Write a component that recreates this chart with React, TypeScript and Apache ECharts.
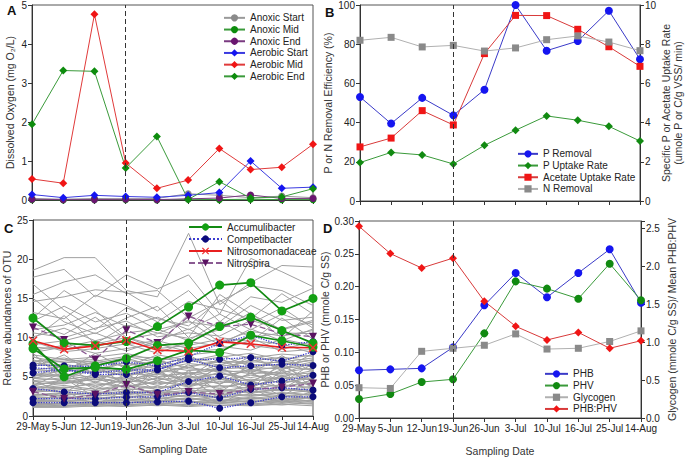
import React, { useEffect, useRef } from 'react';
import * as echarts from 'echarts';

const dates = ['29-May', '5-Jun', '12-Jun', '19-Jun', '26-Jun', '3-Jul', '10-Jul', '16-Jul', '25-Jul', '14-Aug'];

// Panel A: dissolved oxygen (mg O2/L)
const anoxicStart = [0.04, 0.02, 0.04, 0.03, 0.04, 0.16, 0.12, 0.06, 0.1, 0.06];
const anoxicMid = [0.01, 0.0, 0.01, 0.01, 0.0, 0.02, 0.01, 0.02, 0.01, 0.01];
const anoxicEnd = [0.02, 0.01, 0.01, 0.02, 0.01, 0.03, 0.05, 0.13, 0.04, 0.04];
const aerobicStart = [0.14, 0.06, 0.12, 0.09, 0.07, 0.12, 0.19, 1.0, 0.3, 0.33];
const aerobicMid = [0.54, 0.43, 4.76, 0.95, 0.3, 0.51, 1.32, 0.78, 0.84, 1.43];
const aerobicEnd = [1.94, 3.32, 3.3, 0.82, 1.63, 0.01, 0.47, 0.05, 0.08, 0.29];

// Panel B
const pRemoval = [53.1, 39.5, 52.6, 43.7, 56.8, 100, 76.7, 81.6, 97.1, 72.3];
const nRemoval = [82.0, 83.5, 78.6, 79.4, 76.5, 78.1, 82.3, 84.2, 81.1, 76.7];
const acetateUptake = [2.76, 3.21, 4.61, 3.88, 7.52, 9.47, 9.46, 8.76, 7.87, 6.87];
const pUptake = [1.96, 2.48, 2.35, 1.89, 2.84, 3.61, 4.34, 4.12, 3.81, 3.06];

// Panel C: relative abundances of OTU
const accumulibacter = [
  [12.5, 9.3, 9.0, 9.5, 11.4, 13.9, 16.7, 17.0, 13.4, 15.0],
  [9.2, 5.0, 6.4, 7.35, 9.0, 9.3, 11.4, 12.6, 10.9, 9.3],
  [8.6, 6.0, 6.2, 5.95, 7.05, 8.4, 8.1, 10.3, 9.6, 8.8],
];
const competibacter = [
  [6.5, 6.4, 6.3, 6.9, 6.4, 7.55, 9.26, 10.3, 9.0, 9.5],
  [6.15, 5.9, 5.5, 5.85, 5.9, 7.2, 7.25, 7.45, 7.0, 8.2],
  [5.5, 5.9, 5.3, 5.3, 5.9, 7.2, 6.15, 6.4, 6.6, 6.45],
  [3.5, 3.06, 2.8, 3.0, 3.0, 4.4, 5.1, 3.95, 4.45, 5.2],
  [2.2, 2.25, 2.2, 2.4, 2.45, 3.0, 2.3, 3.4, 3.6, 3.3],
  [1.7, 1.7, 1.7, 1.7, 1.8, 1.9, 0.98, 1.7, 2.45, 2.45],
];
const nitrosomonadaceae = [9.6, 8.5, 8.95, 9.65, 8.4, 8.25, 9.45, 9.2, 8.75, 8.7];
const nitrospira = [
  [11.3, 9.7, 7.2, 10.95, 9.3, 12.7, 11.4, 11.7, 10.5, 10.1],
  [3.1, 2.2, 2.7, 3.95, 2.7, 3.05, 2.8, 3.4, 3.65, 4.15],
];
const otherOtu = [
  [18.6, 20.2, 20.2, 16.0, 15.2, 23.3, 14.2, 17.0, 19.2, 19.0],
  [17.7, 18.7, 15.2, 18.0, 16.2, 18.0, 13.0, 20.1, 18.4, 16.5],
  [15.5, 17.1, 18.0, 15.6, 16.0, 12.5, 14.6, 16.6, 16.0, 14.1],
  [14.6, 15.2, 16.1, 15.8, 13.4, 16.0, 12.0, 15.2, 14.5, 16.3],
  [13.2, 12.4, 15.4, 14.1, 12.0, 14.6, 13.6, 12.4, 15.6, 13.0],
  [12.1, 14.0, 12.0, 13.1, 11.0, 12.0, 11.4, 14.1, 12.2, 12.6],
  [11.0, 11.6, 13.2, 11.4, 12.6, 11.0, 13.0, 11.0, 13.0, 11.6],
  [10.6, 10.0, 11.2, 12.1, 10.1, 10.6, 10.2, 12.2, 11.1, 12.2],
  [10.1, 11.2, 9.6, 10.6, 11.1, 9.6, 12.1, 10.0, 10.6, 10.5],
  [9.1, 9.6, 10.6, 9.1, 9.6, 11.1, 9.1, 11.1, 9.6, 11.1],
  [15.0, 12.0, 10.5, 12.5, 14.0, 10.0, 15.5, 13.0, 11.0, 12.0],
  [12.5, 16.0, 13.5, 10.0, 9.0, 13.0, 10.0, 9.5, 12.5, 9.8],
  [11.8, 10.4, 12.6, 9.8, 10.5, 12.2, 9.4, 10.8, 10.2, 10.9],
  [16.8, 13.5, 11.0, 13.8, 12.4, 11.5, 14.8, 11.8, 13.8, 11.2],
  [9.8, 12.8, 9.2, 11.6, 10.6, 9.9, 11.0, 13.2, 9.9, 13.4],
  [8.8, 8.5, 9.2, 10.0, 8.6, 9.0, 9.8, 9.0, 8.5, 9.5],
  [8.4, 9.0, 8.0, 8.6, 9.2, 8.2, 8.5, 9.6, 9.2, 8.0],
  [9.5, 8.2, 8.6, 9.2, 8.0, 9.5, 8.9, 8.4, 9.8, 9.0],
  [8.1, 8.8, 9.6, 8.3, 9.6, 8.6, 9.3, 10.0, 8.2, 8.5],
  [7.8, 7.2, 7.5, 8.0, 7.0, 7.8, 8.2, 7.4, 7.9, 7.6],
  [7.5, 6.8, 7.0, 7.6, 7.4, 6.9, 7.5, 8.0, 7.2, 7.8],
  [7.0, 7.4, 6.5, 7.1, 6.6, 7.4, 6.8, 7.0, 7.5, 7.0],
  [6.8, 6.2, 6.9, 6.4, 7.0, 6.2, 7.1, 6.6, 6.4, 7.2],
  [6.4, 6.6, 6.0, 6.8, 6.0, 6.7, 6.3, 6.9, 6.8, 6.4],
  [6.0, 5.6, 6.3, 5.8, 6.4, 5.8, 6.0, 6.2, 6.0, 6.6],
  [5.7, 5.9, 5.5, 6.1, 5.6, 6.2, 5.6, 5.8, 6.3, 5.9],
  [5.4, 5.0, 5.8, 5.2, 5.8, 5.4, 5.9, 5.4, 5.6, 6.1],
  [5.1, 5.4, 4.9, 5.5, 5.0, 5.6, 5.2, 5.7, 5.2, 5.5],
  [4.8, 4.6, 5.2, 4.7, 5.3, 4.8, 5.4, 4.9, 5.5, 5.0],
  [4.5, 4.9, 4.4, 5.0, 4.6, 5.1, 4.6, 5.2, 4.7, 5.3],
  [4.2, 4.1, 4.7, 4.3, 4.8, 4.3, 4.9, 4.4, 5.0, 4.6],
  [4.0, 4.4, 3.9, 4.5, 4.1, 4.6, 4.2, 4.7, 4.3, 4.8],
  [3.7, 3.6, 4.1, 3.8, 4.3, 3.9, 4.4, 4.0, 4.5, 4.1],
  [3.5, 3.9, 3.4, 4.0, 3.6, 4.1, 3.7, 4.2, 3.8, 4.3],
  [3.2, 3.1, 3.6, 3.3, 3.8, 3.4, 3.9, 3.5, 4.0, 3.6],
  [3.0, 3.4, 2.9, 3.5, 3.1, 3.6, 3.2, 3.7, 3.3, 3.8],
  [2.8, 2.6, 3.1, 2.8, 3.3, 2.9, 3.4, 3.0, 3.5, 3.1],
  [2.6, 2.9, 2.5, 3.0, 2.6, 3.1, 2.7, 3.2, 2.8, 3.3],
  [2.4, 2.3, 2.7, 2.4, 2.9, 2.5, 3.0, 2.6, 3.0, 2.7],
  [2.2, 2.5, 2.1, 2.6, 2.2, 2.7, 2.3, 2.8, 2.4, 2.9],
  [2.0, 1.9, 2.3, 2.0, 2.5, 2.1, 2.6, 2.2, 2.7, 2.3],
  [1.8, 2.1, 1.8, 2.2, 1.9, 2.3, 1.9, 2.4, 2.0, 2.5],
  [1.6, 1.6, 1.9, 1.7, 2.1, 1.7, 2.2, 1.8, 2.3, 1.9],
  [1.4, 1.7, 1.5, 1.8, 1.5, 1.9, 1.6, 2.0, 1.6, 2.1],
  [1.3, 1.3, 1.6, 1.4, 1.7, 1.4, 1.8, 1.5, 1.9, 1.6],
  [1.2, 1.4, 1.2, 1.5, 1.3, 1.5, 1.3, 1.6, 1.4, 1.7],
  [1.1, 1.1, 1.3, 1.2, 1.4, 1.2, 1.4, 1.3, 1.5, 1.3],
  [7.2, 5.5, 8.0, 6.0, 5.2, 7.8, 5.6, 7.6, 5.8, 8.0],
  [6.2, 7.8, 5.2, 7.6, 6.8, 5.0, 7.4, 5.4, 7.7, 5.6],
  [5.0, 6.5, 4.2, 6.4, 4.4, 6.6, 4.0, 6.5, 4.2, 6.7],
  [3.9, 5.6, 3.3, 5.4, 3.2, 5.8, 3.0, 5.6, 3.4, 5.7],
  [2.9, 4.8, 2.4, 4.6, 2.3, 4.9, 2.2, 4.6, 2.5, 4.8],
  [8.0, 4.5, 6.6, 3.8, 7.6, 3.6, 6.5, 3.4, 6.9, 3.5],
  [4.6, 2.8, 5.6, 2.5, 6.2, 2.6, 5.2, 2.7, 5.8, 2.6],
  [1.5, 3.2, 1.4, 3.4, 1.6, 3.5, 1.5, 3.6, 1.7, 3.2],
  [6.6, 7.0, 7.2, 6.3, 7.8, 7.1, 6.5, 7.7, 6.9, 7.4],
  [5.9, 6.3, 5.6, 6.9, 5.4, 6.4, 6.9, 6.1, 7.1, 6.2],
  [5.3, 5.7, 6.1, 5.0, 6.2, 5.2, 6.6, 5.9, 5.4, 6.8],
  [4.9, 5.2, 4.6, 5.8, 4.9, 5.5, 4.8, 6.0, 5.0, 5.8],
  [4.4, 4.3, 5.0, 4.1, 5.5, 4.4, 5.6, 4.5, 5.9, 4.4],
  [3.8, 4.7, 3.7, 4.8, 3.9, 5.0, 4.1, 5.4, 4.1, 5.1],
  [3.4, 3.5, 4.3, 3.6, 4.5, 3.7, 4.7, 3.8, 4.9, 3.9],
  [3.1, 3.7, 3.2, 3.9, 3.4, 4.3, 3.5, 4.4, 3.6, 4.6],
  [2.7, 3.0, 2.8, 3.2, 2.9, 3.3, 3.1, 3.4, 3.2, 3.5],
  [2.5, 2.7, 2.9, 2.7, 3.1, 2.8, 3.3, 2.9, 3.4, 3.0],
  [2.1, 2.2, 2.4, 2.3, 2.7, 2.4, 2.8, 2.5, 2.9, 2.6],
  [1.9, 1.8, 2.1, 1.9, 2.3, 2.0, 2.4, 2.1, 2.5, 2.2],
  [1.7, 1.9, 1.6, 2.0, 1.8, 2.2, 1.8, 2.3, 1.9, 2.4],
  [1.5, 1.5, 1.7, 1.6, 1.9, 1.6, 2.0, 1.7, 2.1, 1.8],
  [1.3, 1.6, 1.4, 1.7, 1.6, 1.8, 1.7, 1.9, 1.8, 2.0],
  [1.2, 1.2, 1.4, 1.3, 1.5, 1.3, 1.6, 1.4, 1.7, 1.5],
  [7.6, 6.0, 6.8, 7.4, 6.2, 7.0, 7.8, 6.3, 6.6, 7.1],
  [6.9, 7.2, 6.2, 5.5, 7.2, 6.0, 5.8, 7.2, 6.1, 6.9],
  [4.7, 6.0, 5.4, 4.4, 5.7, 4.2, 6.2, 4.3, 6.4, 4.5],
  [3.6, 4.2, 4.8, 3.6, 4.9, 3.8, 5.0, 3.6, 5.2, 3.7],
];

// Panel D
const phb = [0.0726, 0.0741, 0.0756, 0.1076, 0.1716, 0.2208, 0.1838, 0.2208, 0.2569, 0.1756];
const phv = [0.0289, 0.0365, 0.0548, 0.0589, 0.1289, 0.2081, 0.197, 0.1817, 0.235, 0.1792];
const glycogen = [0.4, 0.39, 0.88, 0.92, 0.96, 1.11, 0.91, 0.92, 1.01, 1.15];
const phbPhv = [2.53, 2.17, 1.98, 2.11, 1.54, 1.21, 1.03, 1.13, 0.92, 1.02];

const FONT = '"Liberation Sans", Arial, sans-serif';
const XMARK = 'path://M0,1.2 L1.2,0 L5,3.8 L8.8,0 L10,1.2 L6.2,5 L10,8.8 L8.8,10 L5,6.2 L1.2,10 L0,8.8 L3.8,5 Z';

function ser(
  name: string, data: number[], gi: number, yi: number, color: string, lineColor: string,
  symbol: string, size: number, extra: any = {}
) {
  return {
    type: 'line', name, data, xAxisIndex: gi, yAxisIndex: yi,
    symbol, symbolSize: size,
    itemStyle: { color },
    lineStyle: { color: lineColor, width: 1, ...(extra.lineStyle || {}) },
    emphasis: { disabled: true },
    ...(extra.rest || {}),
  };
}

const vline = {
  silent: true,
  symbol: ['none', 'none'],
  label: { show: false },
  lineStyle: { type: [5, 3], color: '#333', width: 1 },
  data: [{ xAxis: '19-Jun' }],
};

function buildOption() {
  const axisLine = { lineStyle: { color: '#333', width: 1 } };
  const axisTick = { show: true, length: 4, inside: false, lineStyle: { color: '#333' } };
  const label = { color: '#222', fontSize: 10, fontFamily: FONT, margin: 5 };
  const nameStyle = { color: '#333', fontSize: 10.5, fontFamily: FONT };
  const grids = [
    { left: 32, top: 4, width: 281, height: 196 },
    { left: 360, top: 5, width: 280, height: 196 },
    { left: 33, top: 220, width: 280, height: 196 },
    { left: 359, top: 221, width: 282, height: 197 },
  ].map((g) => ({ ...g, show: true, borderColor: '#555', borderWidth: 1, backgroundColor: 'transparent' }));

  const xAxis = [0, 1, 2, 3].map((i) => ({
    type: 'category', gridIndex: i, data: dates, boundaryGap: false,
    axisLine, axisTick: { ...axisTick, interval: 0 },
    axisLabel: { ...label, show: i >= 2, interval: 0, fontSize: 10 },
    splitLine: { show: false },
    name: i >= 2 ? 'Sampling Date' : '', nameLocation: 'middle', nameGap: 27, nameTextStyle: nameStyle,
  }));

  const yBase = (gi: number, min: number, max: number, interval: number, name: string, gap: number, pos = 'left', fmt?: any) => ({
    type: 'value', gridIndex: gi, min, max, interval, position: pos,
    axisLine: { show: true, ...axisLine }, axisTick, splitLine: { show: false },
    axisLabel: { ...label, formatter: fmt },
    name, nameLocation: 'middle', nameGap: gap, nameRotate: 90, nameTextStyle: { ...nameStyle, lineHeight: 12 },
  });

  const yAxis = [
    yBase(0, 0, 5, 1, 'Dissolved Oxygen (mg O\u2082/L)', 16),
    yBase(1, 0, 100, 20, 'P or N Removal Efficiency (%)', 23),
    yBase(1, 0, 10, 2, 'Specific P or Acetate Uptake Rate\n(umole P or C/g VSS/ min)', 19, 'right'),
    yBase(2, 0, 25, 5, 'Relative abundances of OTU', 18),
    yBase(3, 0, 0.3, 0.05, 'PHB or PHV (mmole C/g SS)', 25, 'left', (v: number) => v.toFixed(2)),
    yBase(3, 0, 2.6, 0.5, 'Glycogen (mmole C/g SS)/ Mean PHB:PHV', 25, 'right', (v: number) => (v > 2.55 ? '' : v.toFixed(1))),
  ];

  const series: any[] = [];
  // Panel A
  series.push(ser('Anoxic Start', anoxicStart, 0, 0, '#8a8a8a', '#9a9a9a', 'circle', 7));
  series.push(ser('Anoxic Mid', anoxicMid, 0, 0, '#0d8c0d', '#3a9a3a', 'circle', 7));
  series.push(ser('Anoxic End', anoxicEnd, 0, 0, '#6a1670', '#7a3a80', 'circle', 7));
  series.push(ser('Aerobic Start', aerobicStart, 0, 0, '#1515f0', '#3a3ae0', 'diamond', 8));
  series.push(ser('Aerobic Mid', aerobicMid, 0, 0, '#f01515', '#e03a3a', 'diamond', 8));
  series.push(ser('Aerobic End', aerobicEnd, 0, 0, '#0d8c0d', '#3a9a3a', 'diamond', 8, { rest: { markLine: vline } }));

  // Panel B
  series.push(ser('P Removal', pRemoval, 1, 1, '#1515f0', '#3a3ac8', 'circle', 8));
  series.push(ser('P Uptake Rate', pUptake, 1, 2, '#118a11', '#3a9a3a', 'diamond', 8));
  series.push(ser('Acetate Uptake Rate', acetateUptake, 1, 2, '#f01515', '#d83a3a', 'rect', 7));
  series.push(ser('N Removal', nRemoval, 1, 1, '#8a8a8a', '#b0b0b0', 'rect', 7, { rest: { markLine: vline } }));

  // Panel C
  otherOtu.forEach((d) => {
    series.push({
      type: 'line', name: 'OTU', data: d, xAxisIndex: 2, yAxisIndex: 3, symbol: 'none',
      lineStyle: { color: '#a0a0a0', width: 1 }, emphasis: { disabled: true }, silent: true,
    });
  });
  competibacter.forEach((d) => {
    series.push(ser('Competibacter', d, 2, 3, '#0b0b7a', '#3b3bd0', 'circle', 7, { lineStyle: { type: 'dotted', width: 1.3 } }));
  });
  nitrospira.forEach((d) => {
    series.push(ser('Nitrospira', d, 2, 3, '#5a1262', '#8a5a92', 'triangle', 8, { lineStyle: { type: [6, 3], width: 1.3 }, rest: { symbolRotate: 180 } }));
  });
  accumulibacter.forEach((d) => {
    series.push(ser('Accumulibacter', d, 2, 3, '#13a013', '#138a13', 'circle', 9, { lineStyle: { width: 1.7 } }));
  });
  series.push(ser('Nitrosomonadaceae', nitrosomonadaceae, 2, 3, '#f03030', '#e82020', XMARK, 9, { lineStyle: { width: 1.6 }, rest: { markLine: vline } }));

  // Panel D
  series.push(ser('PHB', phb, 3, 4, '#1515f0', '#3a3ac8', 'circle', 8));
  series.push(ser('PHV', phv, 3, 4, '#118a11', '#3a9a3a', 'circle', 8));
  series.push(ser('Glycogen', glycogen, 3, 5, '#8a8a8a', '#b0b0b0', 'rect', 7));
  series.push(ser('PHB:PHV', phbPhv, 3, 5, '#f01515', '#d83a3a', 'diamond', 8, { rest: { markLine: vline } }));

  const legendText = { fontSize: 10, color: '#222', fontFamily: FONT, lineHeight: 11.7 };
  const legend = [
    { data: ['Anoxic Start', 'Anoxic Mid', 'Anoxic End', 'Aerobic Start', 'Aerobic Mid', 'Aerobic End'], left: 223, top: 12, itemWidth: 21 },
    { data: ['P Removal', 'P Uptake Rate', 'Acetate Uptake Rate', 'N Removal'], left: 517, top: 148, itemWidth: 20 },
    { data: ['Accumulibacter', 'Competibacter', 'Nitrosomonadaceae', 'Nitrospira'], left: 188, top: 221, itemWidth: 33, textStyle: { ...legendText, lineHeight: 12 } },
    { data: ['PHB', 'PHV', 'Glycogen', 'PHB:PHV'], left: 544, top: 368, itemWidth: 23 },
  ].map((l) => ({
    orient: 'vertical', itemHeight: 9, itemGap: 0, selectedMode: false, padding: 0,
    textStyle: legendText, ...l,
  }));

  const letter = (t: string, x: number, y: number) => ({
    type: 'text', left: x, top: y,
    style: { text: t, fontSize: 13, fontWeight: 'bold', fontFamily: FONT, fill: '#111' },
  });

  return {
    animation: false,
    textStyle: { fontFamily: FONT },
    grid: grids,
    xAxis,
    yAxis,
    legend,
    series,
    graphic: [letter('A', 7, 4), letter('B', 325, 6), letter('C', 4, 222), letter('D', 323, 222)],
  };
}

export default function App() {
  const ref = useRef<HTMLDivElement>(null);
  useEffect(() => {
    document.body.style.margin = '0';
    const chart = echarts.init(ref.current!, null, { renderer: 'svg' });
    chart.setOption(buildOption() as any);
    return () => chart.dispose();
  }, []);
  return <div ref={ref} style={{ width: 685, height: 457 }} />;
}
